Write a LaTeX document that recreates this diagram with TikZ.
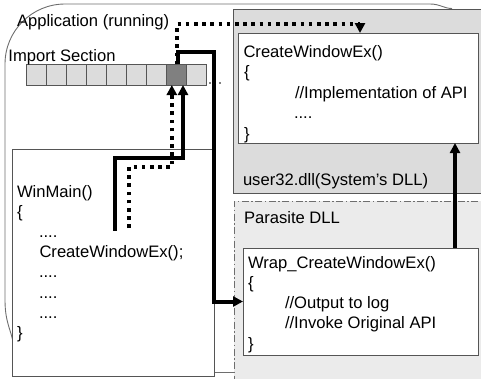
\documentclass[tikz,border=0pt]{standalone}
\usepackage{fontspec}
\setmainfont{Liberation Sans}
\usetikzlibrary{arrows.meta}
\definecolor{boxline}{HTML}{555555}
\definecolor{appline}{HTML}{6E6E6E}
\definecolor{sysfill}{HTML}{DCDCDC}
\definecolor{parfill}{HTML}{EBEBEB}
\definecolor{cellfill}{HTML}{DCDCDC}
\definecolor{celldark}{HTML}{808080}
\begin{document}
\begin{tikzpicture}[x=1pt,y=-1pt,
  every node/.style={font=\fontsize{16.6}{20}\selectfont, inner sep=0pt, outer sep=0pt, anchor=base west},
  txt/.style={anchor=base west},
  boxnode/.style={anchor=north west, inner sep=0pt, outer sep=0pt},
  codebox/.style={boxnode, draw=boxline, line width=0.9pt, fill=white},
  cellbox/.style={boxnode, draw=boxline, line width=0.8pt, fill=cellfill, minimum width=20pt, minimum height=20.7pt},
  appedge/.style={draw=appline, line width=0.9pt},
  solidarrow/.style={line width=4pt, -{Triangle[length=10pt,width=10pt]}},
  dotarrow/.style={line width=3.6pt, dash pattern=on 3.6pt off 4.6pt, -{Triangle[length=10pt,width=10pt]}}]
\useasboundingbox (0,0) rectangle (481,378);

% Application outline
\draw[appedge] (13,342) .. controls (11,330) and (5,322) .. (5,300) -- (5,64)
  arc[start angle=180, end angle=270, radius=60] -- (430,4)
  .. controls (440,4) and (444,8.5) .. (452,8.5);
\draw[appedge] (214,372) -- (236,372);

% user32.dll region
\node[boxnode, draw=boxline, line width=0.9pt, fill=sysfill, minimum width=270pt, minimum height=184pt] (user32) at (233,9) {};
% Parasite DLL region
\node[boxnode, draw=appline, line width=0.8pt, dash pattern=on 7pt off 2.5pt on 1.5pt off 2.5pt, fill=parfill, minimum width=270pt, minimum height=190pt] (parasite) at (234,201) {};

% code boxes
\node[codebox, minimum width=202pt, minimum height=227pt] (winmain) at (12,149) {};
\node[codebox, minimum width=240pt, minimum height=110pt] (cwe) at (238,33) {};
\node[codebox, minimum width=235pt, minimum height=107pt] (wrap) at (243,248) {};

% import section cells
\foreach \i in {0,...,6,8} {
  \node[cellbox] (cell\i) at (26.7+20*\i,64.3) {};
}
\node[cellbox, fill=celldark] (cell7) at (166.7,64.3) {};
\fill (210,83) circle (0.8);
\fill (220,83) circle (0.8);

% labels
\node[txt] (applbl) at (17,26) {Application (running)};
\node[txt] (implbl) at (8.5,61) {Import Section};
\node[txt] (userlbl) at (243,185) {user32.dll(System’s DLL)};
\node[txt] (parlbl) at (244,223) {Parasite DLL};

% WinMain text
\node[txt] (w1) at (17,197) {WinMain()};
\node[txt] (w2) at (17,217.2) {\{};
\node[txt] (w3) at (39,237.4) {....};
\node[txt] (w4) at (39.5,257.6) {CreateWindowEx();};
\node[txt] (w5) at (39,277.8) {....};
\node[txt] (w6) at (39,298) {....};
\node[txt] (w7) at (39,318.2) {....};
\node[txt] (w8) at (17,338.4) {\}};

% CreateWindowEx text
\node[txt] (c1) at (243.5,57) {CreateWindowEx()};
\node[txt] (c2) at (244,77.5) {\{};
\node[txt] (c3) at (295,98) {//Implementation of API};
\node[txt] (c4) at (294,118.5) {....};
\node[txt] (c5) at (244,139) {\}};

% Wrap text
\node[txt] (r1) at (248,268) {Wrap\_CreateWindowEx()};
\node[txt] (r2) at (248,288.3) {\{};
\node[txt] (r3) at (285,308.6) {//Output to log};
\node[txt] (r4) at (285,328.9) {//Invoke Original API};
\node[txt] (r5) at (248,349.2) {\}};

% connectors
\coordinate (s1) at (115,230.5);
\coordinate (d1) at (129,228);
\draw[solidarrow] (s1) -- ++(0,-72.5) -| ([xshift=6.3pt]cell7.south);
\draw[dotarrow] (d1) -- ++(0,-61) -| ([xshift=-4.9pt]cell7.south);
\draw[dotarrow] ([xshift=0.2pt]cell7.north) -- ++(0,-40.3) -| ([xshift=2pt]cwe.north);
\draw[solidarrow] ([xshift=1.6pt]cell7.north) -- ++(0,-12.5) -- ++(35.7,0) |- (wrap.west);
\draw[solidarrow] ([xshift=94.5pt]wrap.north) -- ++(0,-105);
\end{tikzpicture}
\end{document}
